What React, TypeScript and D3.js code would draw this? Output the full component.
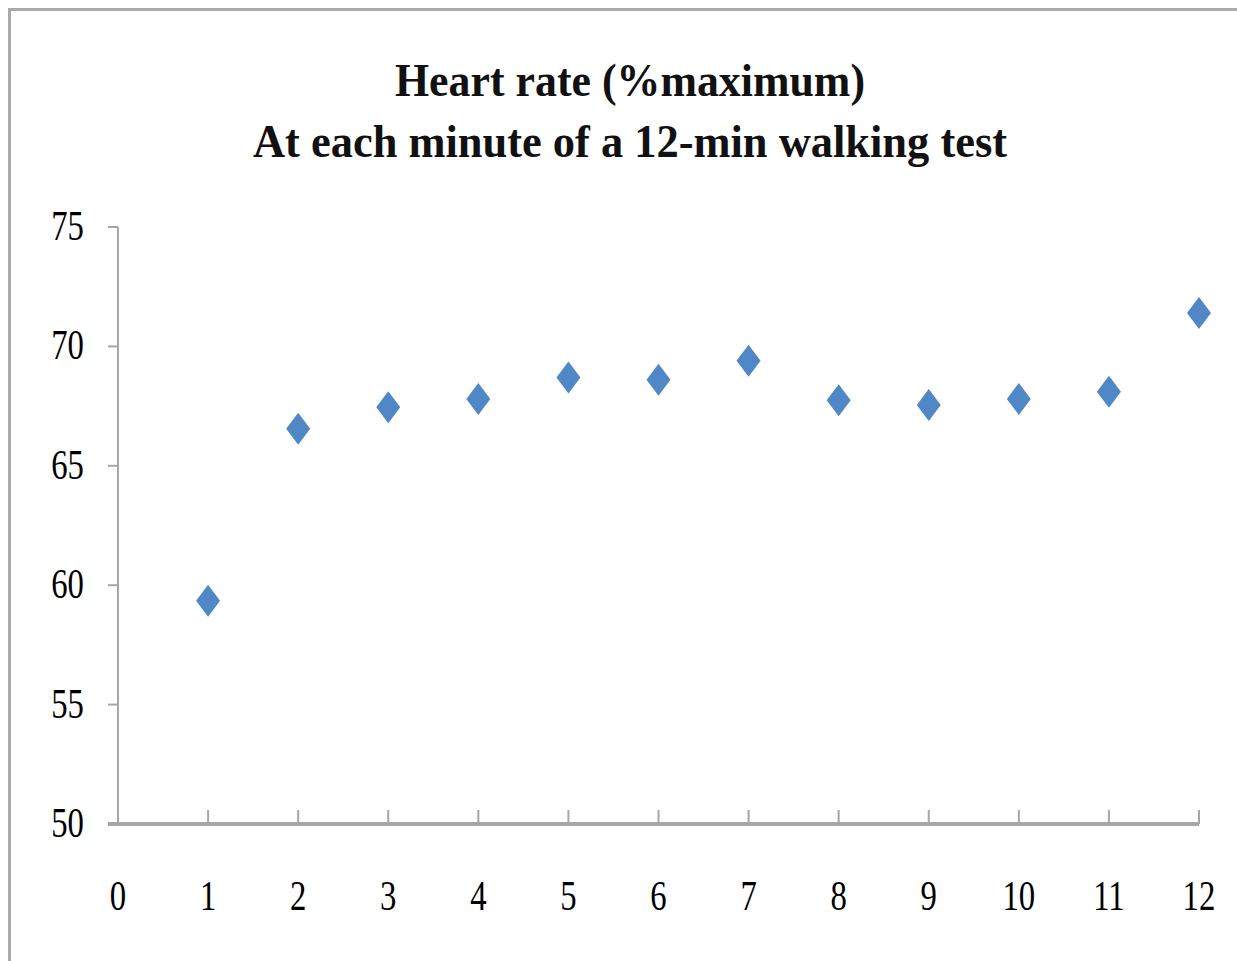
import * as d3 from "d3";

// Heart rate (% of maximum) at each minute of the walking test
const minutes = [1, 2, 3, 4, 5, 6, 7, 8, 9, 10, 11, 12];
const heartRate = [59.35, 66.55, 67.45, 67.8, 68.7, 68.6, 69.4, 67.75, 67.55, 67.8, 68.1, 71.4];
const xTicks = [0, 1, 2, 3, 4, 5, 6, 7, 8, 9, 10, 11, 12];
const yTicks = [50, 55, 60, 65, 70, 75];
const titleLines = ["Heart rate (%maximum)", "At each minute of a 12-min walking test"];

const W = 1237;
const H = 961;
const axisColor = "#a6a6a6";
const markerColor = "#5087c7";

export default function App() {
  const x = d3.scaleLinear().domain([0, 12]).range([118, 1199]);
  const y = d3.scaleLinear().domain([50, 75]).range([824, 227]);

  // diamond marker, a bit taller than wide like the original
  const diamond = (cx: number, cy: number) => {
    const hw = 12;
    const hh = 16;
    return `M${cx},${cy - hh}L${cx + hw},${cy}L${cx},${cy + hh}L${cx - hw},${cy}Z`;
  };

  return (
    <svg
      width={W}
      height={H}
      style={{ position: "absolute", left: 0, top: 0, background: "#fff" }}
    >
      {/* chart frame */}
      <rect x={9.5} y={9.5} width={W + 20} height={H + 20} fill="#fff" stroke="#aaaaaa" strokeWidth={3} />

      {/* title */}
      <g fontFamily="'Liberation Serif', serif" fontWeight="bold" fontSize={47} fill="#111">
        <text x={630} y={96} textAnchor="middle" textLength={470} lengthAdjust="spacingAndGlyphs">
          {titleLines[0]}
        </text>
        <text x={630} y={157} textAnchor="middle" textLength={754} lengthAdjust="spacingAndGlyphs">
          {titleLines[1]}
        </text>
      </g>

      {/* y axis */}
      <line x1={x(0)} x2={x(0)} y1={y(75)} y2={y(50)} stroke={axisColor} strokeWidth={2} />
      {yTicks.map(t => (
        <g key={"y" + t}>
          <line x1={x(0) - 10} x2={x(0)} y1={y(t)} y2={y(t)} stroke={axisColor} strokeWidth={2} />
          <text
            transform={`translate(84,${y(t) + 13}) scale(0.78,1)`}
            textAnchor="end"
            fontFamily="'Liberation Serif', serif"
            fontSize={42}
            fill="#000"
          >
            {t}
          </text>
        </g>
      ))}

      {/* x axis */}
      <line x1={x(0) - 10} x2={x(12)} y1={y(50)} y2={y(50)} stroke={axisColor} strokeWidth={4} />
      {xTicks.map(t => (
        <g key={"x" + t}>
          {t > 0 && (
            <line x1={x(t)} x2={x(t)} y1={y(50) - 14} y2={y(50)} stroke={axisColor} strokeWidth={2} />
          )}
          <text
            transform={`translate(${x(t)},${910}) scale(0.78,1)`}
            textAnchor="middle"
            fontFamily="'Liberation Serif', serif"
            fontSize={42}
            fill="#000"
          >
            {t}
          </text>
        </g>
      ))}

      {/* markers */}
      {minutes.map((m, i) => (
        <path key={"p" + m} d={diamond(x(m), y(heartRate[i]))} fill={markerColor} />
      ))}
    </svg>
  );
}
